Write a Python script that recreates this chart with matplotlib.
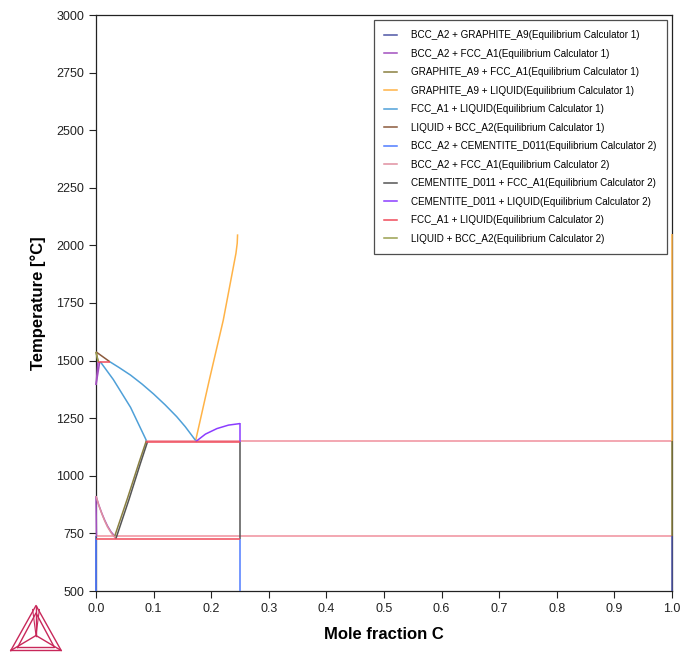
import matplotlib
matplotlib.use("Agg")
import matplotlib.pyplot as plt
from matplotlib.lines import Line2D

plt.rcParams['font.family'] = ['Liberation Sans', 'DejaVu Sans']

# ---------------- data (mole fraction C, temperature degC) ----------------
x_ticks = [0.0, 0.1, 0.2, 0.3, 0.4, 0.5, 0.6, 0.7, 0.8, 0.9, 1.0]
y_ticks = [500, 750, 1000, 1250, 1500, 1750, 2000, 2250, 2500, 2750, 3000]

# Calculator 1 (stable Fe-graphite)
bcc_gra_x1 = [0.0005, 0.0005]; bcc_gra_t1 = [500, 738]
bcc_gra_x1b = [1.0, 1.0]; bcc_gra_t1b = [500, 738]
bcc_fcc_x1 = [0.0, 0.005, 0.010, 0.015, 0.020, 0.026, 0.0325]
bcc_fcc_t1 = [912, 872, 838, 808, 782, 757, 738]
bcc_fcc_x1b = [0.0, 0.0008]; bcc_fcc_t1b = [912, 738]
bcc_fcc_x1c = [0.0, 0.0035]; bcc_fcc_t1c = [1394, 1495]
bcc_fcc_x1d = [0.0, 0.0065]; bcc_fcc_t1d = [1394, 1495]
gra_fcc_x1 = [0.0325, 0.055, 0.075, 0.0875]; gra_fcc_t1 = [738, 905, 1060, 1153]
gra_fcc_x1b = [1.0, 1.0]; gra_fcc_t1b = [738, 1153]
gra_liq_x1 = [0.173, 0.197, 0.221, 0.243, 0.2452, 0.2458]
gra_liq_t1 = [1153, 1419, 1676, 1966, 2010, 2048]
gra_liq_x1b = [1.0, 1.0]; gra_liq_t1b = [1153, 2050]
liquidus_x1 = [0.024, 0.04, 0.06, 0.08, 0.10, 0.12, 0.14, 0.155, 0.173]
liquidus_t1 = [1495, 1470, 1437, 1398, 1355, 1308, 1257, 1213, 1153]
solidus_x1 = [0.0075, 0.03, 0.06, 0.0875]
solidus_t1 = [1495, 1418, 1297, 1153]
liq_bcc_x1 = [0.0, 0.024]; liq_bcc_t1 = [1538, 1495]
liq_bcc_x1b = [0.0, 0.004]; liq_bcc_t1b = [1538, 1495]
eutectic_x1 = [0.0875, 1.0]; eutectic_t1 = [1153, 1153]
eutectoid_x1 = [0.0, 1.0]; eutectoid_t1 = [738, 738]

# Calculator 2 (metastable Fe-cementite)
bcc_cem_x2 = [0.0008, 0.0008]; bcc_cem_t2 = [500, 727]
bcc_cem_x2b = [0.25, 0.25]; bcc_cem_t2b = [500, 727]
bcc_fcc_x2 = [0.0, 0.005, 0.010, 0.015, 0.020, 0.027, 0.0345]
bcc_fcc_t2 = [912, 871, 836, 805, 778, 750, 727]
cem_fcc_x2 = [0.0345, 0.057, 0.077, 0.0895]; cem_fcc_t2 = [727, 895, 1053, 1148]
cem_fcc_x2b = [0.25, 0.25]; cem_fcc_t2b = [727, 1148]
cem_liq_x2 = [0.173, 0.19, 0.21, 0.23, 0.248, 0.25]
cem_liq_t2 = [1148, 1181, 1205, 1220, 1226, 1227]
cem_liq_x2b = [0.25, 0.25]; cem_liq_t2b = [1227, 1148]
fcc_liq_x2 = [0.0875, 0.25]; fcc_liq_t2 = [1148, 1148]
fcc_liq_x2b = [0.0, 0.25]; fcc_liq_t2b = [727, 727]
fcc_liq_x2c = [0.0035, 0.024]; fcc_liq_t2c = [1495, 1495]
liq_bcc_x2 = [0.0, 0.0035]; liq_bcc_t2 = [1538, 1495]

labels = [
    "BCC_A2 + GRAPHITE_A9(Equilibrium Calculator 1)",
    "BCC_A2 + FCC_A1(Equilibrium Calculator 1)",
    "GRAPHITE_A9 + FCC_A1(Equilibrium Calculator 1)",
    "GRAPHITE_A9 + LIQUID(Equilibrium Calculator 1)",
    "FCC_A1 + LIQUID(Equilibrium Calculator 1)",
    "LIQUID + BCC_A2(Equilibrium Calculator 1)",
    "BCC_A2 + CEMENTITE_D011(Equilibrium Calculator 2)",
    "BCC_A2 + FCC_A1(Equilibrium Calculator 2)",
    "CEMENTITE_D011 + FCC_A1(Equilibrium Calculator 2)",
    "CEMENTITE_D011 + LIQUID(Equilibrium Calculator 2)",
    "FCC_A1 + LIQUID(Equilibrium Calculator 2)",
    "LIQUID + BCC_A2(Equilibrium Calculator 2)",
]
colors = ['#4e56a6', '#a24fbf', '#8a8040', '#ffb347', '#4fa0d8', '#8b5a3c',
          '#4f7cff', '#e090a0', '#555555', '#8b3dff', '#f04a5a', '#9aa050']

# ---------------- figure ----------------
fig = plt.figure(figsize=(6.82, 6.52), dpi=100)
ax = fig.add_axes([96/682, 1-591/652, 576/682, 576/652])

lw = 1.1
series = [
    (0, [(bcc_gra_x1, bcc_gra_t1), (bcc_gra_x1b, bcc_gra_t1b)]),
    (1, [(bcc_fcc_x1, bcc_fcc_t1), (bcc_fcc_x1b, bcc_fcc_t1b), (bcc_fcc_x1c, bcc_fcc_t1c), (bcc_fcc_x1d, bcc_fcc_t1d)]),
    (2, [(gra_fcc_x1, gra_fcc_t1), (gra_fcc_x1b, gra_fcc_t1b)]),
    (3, [(gra_liq_x1, gra_liq_t1), (gra_liq_x1b, gra_liq_t1b)]),
    (4, [(liquidus_x1, liquidus_t1), (solidus_x1, solidus_t1)]),
    (5, [(liq_bcc_x1, liq_bcc_t1), (liq_bcc_x1b, liq_bcc_t1b)]),
    (6, [(bcc_cem_x2, bcc_cem_t2), (bcc_cem_x2b, bcc_cem_t2b)]),
    (7, [(bcc_fcc_x2, bcc_fcc_t2)]),
    (8, [(cem_fcc_x2, cem_fcc_t2), (cem_fcc_x2b, cem_fcc_t2b)]),
    (9, [(cem_liq_x2, cem_liq_t2), (cem_liq_x2b, cem_liq_t2b)]),
    (10, [(fcc_liq_x2, fcc_liq_t2), (fcc_liq_x2b, fcc_liq_t2b), (fcc_liq_x2c, fcc_liq_t2c)]),
    (11, [(liq_bcc_x2, liq_bcc_t2)]),
]

# invariant (three-phase) lines of calculator 1
ax.plot(eutectic_x1, eutectic_t1, color='#f0909c', lw=lw, zorder=3)
ax.plot(eutectoid_x1, eutectoid_t1, color='#f0909c', lw=lw, zorder=3)

for i, segs in series:
    for xs, ts in segs:
        ax.plot(xs, ts, color=colors[i], lw=lw, solid_capstyle='butt',
                zorder=3, clip_on=False)

ax.set_xlim(0, 1)
ax.set_ylim(500, 3000)
ax.set_xticks(x_ticks)
ax.set_xticklabels([f"{v:.1f}" for v in x_ticks])
ax.set_yticks(y_ticks)
ax.tick_params(direction='out', length=5, width=0.8, labelsize=9, colors='#222222')
for s in ax.spines.values():
    s.set_linewidth(0.9)
    s.set_color('#222222')
ax.set_xlabel("Mole fraction C", fontsize=12, fontweight='bold', labelpad=9)
ax.set_ylabel("Temperature [°C]", fontsize=12, fontweight='bold', labelpad=7)

handles = [Line2D([0], [0], color=c, lw=lw) for c in colors]
leg = ax.legend(handles, labels, loc='upper right', fontsize=7.1, frameon=True,
                fancybox=False, edgecolor='#222222', handlelength=1.25,
                handletextpad=1.5, labelspacing=0.86, borderpad=1.05,
                borderaxespad=0.5)
leg.get_frame().set_linewidth(0.9)
leg.set_zorder(5)

# logo
lax = fig.add_axes([8/682, 0, 56/682, 50/652])
lax.set_xlim(0, 1); lax.set_ylim(0, 1); lax.axis('off')
lc = '#c8285a'
outer = [(0.05, 0.03), (0.95, 0.03), (0.5, 0.93), (0.05, 0.03)]
inner = [(0.17, 0.09), (0.83, 0.09), (0.5, 0.78), (0.17, 0.09)]
for tri in (outer, inner):
    lax.plot([p[0] for p in tri], [p[1] for p in tri], color=lc, lw=1.0)
cx, cy = 0.5, 0.33
for vx, vy in [(0.05, 0.03), (0.95, 0.03), (0.5, 0.93)]:
    lax.plot([vx, cx], [vy, cy], color=lc, lw=1.0)
lax.plot([0.44, 0.5, 0.56], [0.85, 0.33, 0.85], color=lc, lw=0.8)

fig.savefig("out.png", dpi=100)
